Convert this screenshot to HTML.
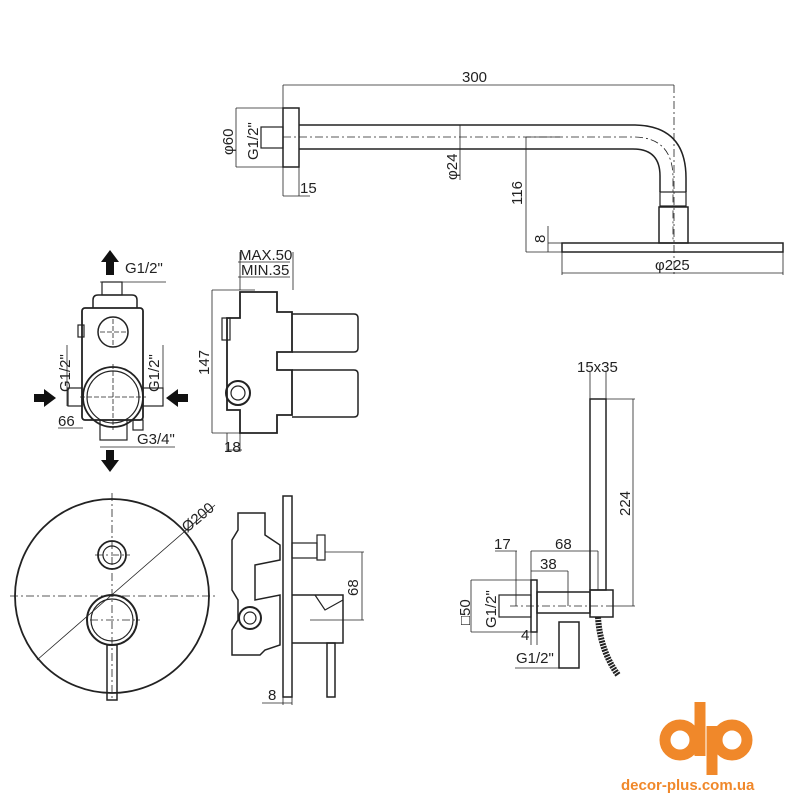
<!DOCTYPE html>
<html><head><meta charset="utf-8"><style>
html,body{margin:0;padding:0;background:#fff;width:800px;height:800px;overflow:hidden}
svg{display:block}
text{font-family:"Liberation Sans",sans-serif;fill:#222;font-size:15px}
</style></head><body>
<svg width="800" height="800" viewBox="0 0 800 800" xmlns="http://www.w3.org/2000/svg">
<g fill="none" stroke="#222" stroke-width="1.2">
<!-- TOP shower arm -->
<line x1="283" y1="85" x2="674" y2="85" stroke-width="0.8"/>
<line x1="283" y1="85" x2="283" y2="196" stroke-width="0.8"/>
<line x1="674" y1="85" x2="674" y2="275" stroke-width="0.8" stroke-dasharray="8 3 2 3"/>
<rect x="283" y="108" width="16" height="59" stroke-width="1.5"/>
<line x1="299" y1="167" x2="299" y2="196" stroke-width="0.8"/>
<line x1="283" y1="196" x2="310" y2="196" stroke-width="0.8"/>
<line x1="236" y1="108" x2="283" y2="108" stroke-width="0.8"/>
<line x1="236" y1="167" x2="283" y2="167" stroke-width="0.8"/>
<line x1="236" y1="108" x2="236" y2="167" stroke-width="0.8"/>
<rect x="261" y="127" width="22" height="21"/>
<path d="M299,125 L633,125 Q686,125 686,178 L686,192 M299,149 L633,149 Q660,149 660,176 L660,192" stroke-width="1.5"/>
<path d="M283,137 L633,137 Q673,137 673,178 L673,240" stroke-width="0.8" stroke-dasharray="8 3 2 3"/>
<rect x="660" y="192" width="26" height="14"/>
<rect x="659" y="207" width="29" height="36" stroke-width="1.5"/>
<rect x="562" y="243" width="221" height="9" stroke-width="1.5"/>
<line x1="460" y1="125" x2="460" y2="180" stroke-width="0.8"/>
<line x1="526" y1="137" x2="526" y2="252" stroke-width="0.8"/>
<line x1="526" y1="137" x2="560" y2="137" stroke-width="0.8"/>
<line x1="526" y1="252" x2="562" y2="252" stroke-width="0.8"/>
<line x1="548" y1="226" x2="548" y2="252" stroke-width="0.8"/>
<line x1="548" y1="243" x2="562" y2="243" stroke-width="0.8"/>
<line x1="562" y1="252" x2="562" y2="275" stroke-width="0.8"/>
<line x1="783" y1="252" x2="783" y2="275" stroke-width="0.8"/>
<line x1="562" y1="273" x2="783" y2="273" stroke-width="0.8"/>

<!-- mixer body front -->
<line x1="100" y1="282" x2="166" y2="282" stroke-width="0.8"/>
<rect x="102" y="282" width="20" height="13"/>
<path d="M93,308 L93,300 Q93,295 98,295 L132,295 Q137,295 137,300 L137,308" stroke-width="1.5"/>
<rect x="82" y="308" width="61" height="112" rx="3" stroke-width="1.8"/>
<circle cx="113" cy="332" r="15" stroke-width="1.5"/>
<circle cx="113" cy="397" r="30" stroke-width="1.8"/>
<circle cx="113" cy="397" r="26"/>
<path d="M100,332 H126 M113,319 V345 M80,397 H146 M113,364 V430" stroke-width="0.8" stroke-dasharray="5 2"/>
<rect x="68" y="388" width="14" height="18"/>
<rect x="143" y="388" width="20" height="18"/>
<rect x="100" y="420" width="27" height="20"/>
<line x1="67" y1="345" x2="67" y2="406" stroke-width="0.8"/>
<line x1="163" y1="345" x2="163" y2="406" stroke-width="0.8"/>
<line x1="58" y1="428" x2="83" y2="428" stroke-width="0.8"/>
<line x1="100" y1="447" x2="175" y2="447" stroke-width="0.8"/>
<rect x="78" y="325" width="6" height="12"/>
<rect x="133" y="420" width="10" height="10"/>

<!-- mixer side -->
<line x1="240" y1="252" x2="240" y2="290" stroke-width="0.8"/>
<line x1="293" y1="252" x2="293" y2="290" stroke-width="0.8"/>
<line x1="238" y1="262" x2="290" y2="262" stroke-width="0.8"/>
<line x1="238" y1="277" x2="290" y2="277" stroke-width="0.8"/>
<line x1="212" y1="290" x2="212" y2="433" stroke-width="0.8"/>
<line x1="212" y1="290" x2="255" y2="290" stroke-width="0.8"/>
<line x1="212" y1="433" x2="240" y2="433" stroke-width="0.8"/>
<path d="M242,292 L277,292 L277,312 L292,312 L292,352 L277,352 L277,370 L292,370 L292,415 L277,415 L277,433 L240,433 L240,410 L227,410 L227,318 L240,318 L240,292 Z" stroke-width="1.8"/>
<path d="M292,314 L354,314 Q358,314 358,318 L358,348 Q358,352 354,352 L292,352" stroke-width="1.5"/>
<path d="M292,370 L354,370 Q358,370 358,374 L358,413 Q358,417 354,417 L292,417" stroke-width="1.5"/>
<rect x="222" y="318" width="8" height="22"/>
<circle cx="238" cy="393" r="12" stroke-width="2"/>
<circle cx="238" cy="393" r="7"/>
<line x1="227" y1="433" x2="227" y2="452" stroke-width="0.8"/>
<line x1="240" y1="433" x2="240" y2="452" stroke-width="0.8"/>
<line x1="227" y1="450" x2="242" y2="450" stroke-width="0.8"/>

<!-- round plate -->
<circle cx="112" cy="596" r="97" stroke-width="1.8"/>
<circle cx="112" cy="555" r="14" stroke-width="1.8"/>
<circle cx="112" cy="555" r="9"/>
<circle cx="112" cy="620" r="25" stroke-width="2"/>
<circle cx="112" cy="620" r="21"/>
<rect x="107" y="645" width="10" height="55" stroke-width="1.5"/>
<line x1="37" y1="660" x2="215" y2="505" stroke-width="0.8"/>
<path d="M112,493 V700 M10,596 H215 M90,620 H140 M95,555 H130" stroke-width="0.8" stroke-dasharray="8 3 2 3"/>

<!-- side bottom -->
<rect x="283" y="496" width="9" height="201" stroke-width="1.5"/>
<path d="M238,513 L265,513 L265,535 L280,545 L280,560 L255,565 L255,600 L280,595 L280,645 L265,650 L260,655 L232,655 L232,630 L238,620 L238,600 L232,590 L232,540 L238,530 Z" stroke-width="1.5"/>
<circle cx="250" cy="618" r="11" stroke-width="2"/>
<circle cx="250" cy="618" r="6"/>
<rect x="292" y="543" width="25" height="15"/>
<rect x="317" y="535" width="8" height="25"/>
<line x1="325" y1="552" x2="364" y2="552" stroke-width="0.8"/>
<line x1="310" y1="620" x2="364" y2="620" stroke-width="0.8"/>
<line x1="362" y1="552" x2="362" y2="620" stroke-width="0.8"/>
<path d="M292,595 L343,595 L343,643 L292,643" stroke-width="1.5"/>
<path d="M315,595 L325,610 L343,600" />
<rect x="327" y="643" width="8" height="54" stroke-width="1.5"/>
<line x1="283" y1="697" x2="283" y2="705" stroke-width="0.8"/>
<line x1="292" y1="697" x2="292" y2="705" stroke-width="0.8"/>
<line x1="262" y1="703" x2="292" y2="703" stroke-width="0.8"/>

<!-- hand shower -->
<line x1="590" y1="372" x2="590" y2="399" stroke-width="0.8"/>
<line x1="606" y1="372" x2="606" y2="399" stroke-width="0.8"/>
<rect x="590" y="399" width="16" height="191" stroke-width="1.5"/>
<line x1="606" y1="399" x2="635" y2="399" stroke-width="0.8"/>
<line x1="613" y1="606" x2="635" y2="606" stroke-width="0.8"/>
<line x1="633" y1="399" x2="633" y2="606" stroke-width="0.8"/>
<line x1="471" y1="580" x2="471" y2="632" stroke-width="0.8"/>
<line x1="471" y1="580" x2="531" y2="580" stroke-width="0.8"/>
<line x1="471" y1="632" x2="531" y2="632" stroke-width="0.8"/>
<rect x="531" y="580" width="6" height="52" stroke-width="1.5"/>
<rect x="499" y="595" width="32" height="22"/>
<rect x="537" y="592" width="53" height="21" stroke-width="1.5"/>
<rect x="590" y="590" width="23" height="27" stroke-width="1.5"/>
<line x1="510" y1="606" x2="613" y2="606" stroke-width="0.8" stroke-dasharray="8 3 2 3"/>
<rect x="559" y="622" width="20" height="46" stroke-width="1.5"/>
<line x1="495" y1="551" x2="517" y2="551" stroke-width="0.8"/>
<line x1="531" y1="551" x2="598" y2="551" stroke-width="0.8"/>
<line x1="531" y1="571" x2="568" y2="571" stroke-width="0.8"/>
<line x1="516" y1="551" x2="516" y2="606" stroke-width="0.8"/>
<line x1="531" y1="551" x2="531" y2="580" stroke-width="0.8"/>
<line x1="568" y1="571" x2="568" y2="606" stroke-width="0.8"/>
<line x1="598" y1="551" x2="598" y2="590" stroke-width="0.8"/>
<line x1="531" y1="632" x2="531" y2="645" stroke-width="0.8"/>
<line x1="537" y1="632" x2="537" y2="645" stroke-width="0.8"/>
<line x1="515" y1="668" x2="559" y2="668" stroke-width="0.8"/>
<path d="M598,617 Q600,650 618,675" stroke-width="6" stroke-dasharray="2 1"/>
</g>
<!-- arrows -->
<g fill="#111">
<path d="M110,250 L101,262 L106,262 L106,275 L114,275 L114,262 L119,262 Z"/>
<path d="M110,472 L101,460 L106,460 L106,450 L114,450 L114,460 L119,460 Z"/>
<path d="M56,398 L44,389 L44,394 L34,394 L34,402 L44,402 L44,407 Z"/>
<path d="M166,398 L178,389 L178,394 L188,394 L188,402 L178,402 L178,407 Z"/>
</g>
<g>
<text x="462" y="82">300</text>
<text x="300" y="193">15</text>
<text transform="translate(233,155) rotate(-90)">φ60</text>
<text transform="translate(258,160) rotate(-90)">G1/2"</text>
<text transform="translate(457,180) rotate(-90)">φ24</text>
<text transform="translate(522,205) rotate(-90)">116</text>
<text transform="translate(545,243) rotate(-90)">8</text>
<text x="655" y="270">φ225</text>
<text x="125" y="273">G1/2"</text>
<text transform="translate(70,392) rotate(-90)">G1/2"</text>
<text transform="translate(159,392) rotate(-90)">G1/2"</text>
<text x="58" y="426">66</text>
<text x="137" y="444">G3/4"</text>
<text x="239" y="260">MAX.50</text>
<text x="241" y="275">MIN.35</text>
<text transform="translate(209,375) rotate(-90)">147</text>
<text x="224" y="452">18</text>
<text transform="translate(187,533) rotate(-40)">Ø200</text>
<text transform="translate(358,596) rotate(-90)">68</text>
<text x="268" y="700">8</text>
<text x="577" y="372">15x35</text>
<text transform="translate(630,516) rotate(-90)">224</text>
<text x="494" y="549">17</text>
<text x="555" y="549">68</text>
<text x="540" y="569">38</text>
<text transform="translate(470,625) rotate(-90)">□50</text>
<text transform="translate(496,628) rotate(-90)">G1/2"</text>
<text x="521" y="640">4</text>
<text x="516" y="663">G1/2"</text>
</g>
<!-- logo -->
<g fill="none" stroke="#f0882a" stroke-width="11">
<circle cx="680" cy="740" r="15"/>
<line x1="700" y1="702" x2="700" y2="756"/>
<circle cx="732" cy="740" r="15"/>
<line x1="712" y1="726" x2="712" y2="775"/>
</g>
<text x="621" y="790" style="fill:#f0882a;font-weight:bold;font-size:15px">decor-plus.com.ua</text>
</svg>
</body></html>
